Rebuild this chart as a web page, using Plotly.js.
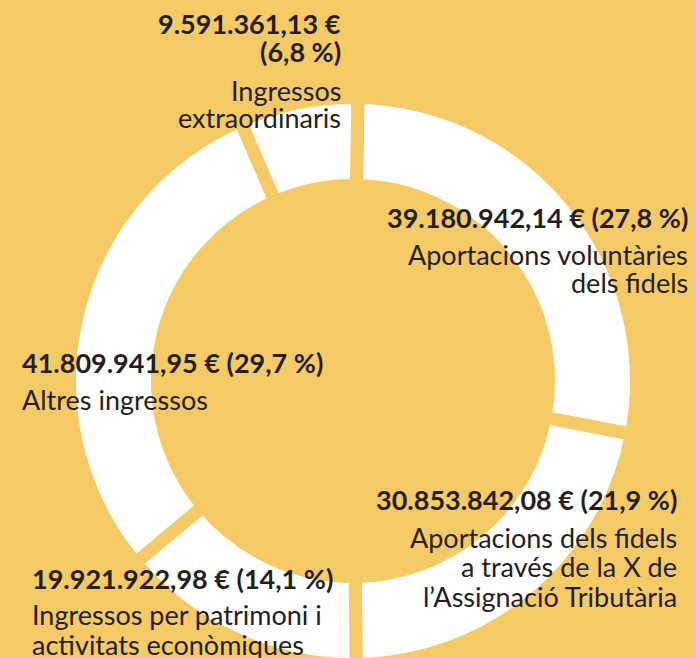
<!DOCTYPE html>
<html>
<head>
<meta charset="utf-8">
<script src="https://cdn.plot.ly/plotly-3.0.1.min.js"></script>
<style>
  html, body { margin: 0; padding: 0; background: #F6CA64; overflow: hidden; }
  #chart { width: 696px; height: 720px; }
</style>
</head>
<body>
<div id="chart"></div>
<script>
// ---- data ----
const categories = [
  'Aportacions voluntàries dels fidels',
  'Aportacions dels fidels a través de la X de l’Assignació Tributària',
  'Ingressos per patrimoni i activitats econòmiques',
  'Altres ingressos',
  'Ingressos extraordinaris'
];
const amounts = [39180942.14, 30853842.08, 19921922.98, 41809941.95, 9591361.13];
const percentLabels = ['27,8 %', '21,9 %', '14,1 %', '29,7 %', '6,8 %'];
const nameLines = [
  ['Aportacions voluntàries', 'dels fidels'],
  ['Aportacions dels fidels', 'a través de la X de', 'l’Assignació Tributària'],
  ['Ingressos per patrimoni i', 'activitats econòmiques'],
  ['Altres ingressos'],
  ['Ingressos', 'extraordinaris']
];

// ---- layout helpers ----
const W = 696, H = 720;
const BG = '#F6CA64';
const INK = '#231F20';
const FONT = 'Lato, "Open Sans", sans-serif';
const FS = 27;

function fmtEuro(v) {
  const parts = v.toFixed(2).split('.');
  const intPart = parts[0].replace(/\B(?=(\d{3})+(?!\d))/g, '.');
  return intPart + ',' + parts[1] + ' €';
}

// label placement: anchor x, alignment, centre y of bold lines, centre y of name lines (px from top)
const placement = [
  {x: 690, side: 'right', bold: [217], names: [254, 283]},
  {x: 679, side: 'right', bold: [499], names: [537, 566, 596]},
  {x: 30,  side: 'left',  bold: [578], names: [614, 644]},
  {x: 20,  side: 'left',  bold: [362], names: [399]},
  {x: 343, side: 'right', bold: [23, 52], names: [90, 118]}
];

const annotations = [];
placement.forEach((p, i) => {
  const boldLines = p.bold.length === 1
    ? [fmtEuro(amounts[i]) + ' (' + percentLabels[i] + ')']
    : [fmtEuro(amounts[i]), '(' + percentLabels[i] + ')'];
  boldLines.forEach((t, k) => annotations.push({
    text: t, x: p.x / W, y: 1 - p.bold[k] / H, xref: 'paper', yref: 'paper',
    xanchor: p.side, yanchor: 'middle', showarrow: false,
    font: {family: FONT, size: FS, color: INK, weight: 700}
  }));
  nameLines[i].forEach((t, k) => annotations.push({
    text: t, x: p.x / W, y: 1 - p.names[k] / H, xref: 'paper', yref: 'paper',
    xanchor: p.side, yanchor: 'middle', showarrow: false,
    font: {family: FONT, size: FS, color: INK, weight: 400}
  }));
});

// donut geometry (px)
const cx = 353, cy = 381, R = 283.5, gap = 13;
const holeR = 195.5;

const trace = {
  type: 'pie',
  labels: categories,
  values: amounts,
  sort: false,
  direction: 'clockwise',
  rotation: 1,
  hole: holeR / R,
  textinfo: 'none',
  hoverinfo: 'label+value+percent',
  marker: {colors: categories.map(() => '#FFFFFF'), line: {color: BG, width: gap}},
  domain: {
    x: [(cx - R) / W, (cx + R) / W],
    y: [(H - cy - R) / H, (H - cy + R) / H]
  },
  showlegend: false
};

Plotly.newPlot('chart', [trace], {
  width: W, height: H,
  margin: {l: 0, r: 0, t: 0, b: 0},
  paper_bgcolor: BG, plot_bgcolor: BG,
  showlegend: false,
  annotations: annotations
}, {displayModeBar: false, staticPlot: true});
</script>
</body>
</html>
